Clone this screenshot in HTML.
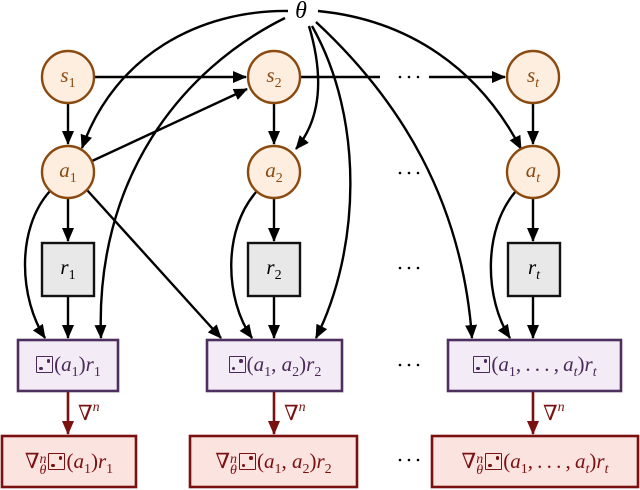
<!DOCTYPE html>
<html><head><meta charset="utf-8"><style>
body{margin:0;background:#fff;width:640px;height:490px;position:relative;overflow:hidden;font-family:"Liberation Serif","DejaVu Serif",serif;}
.lbl{position:absolute;display:block;text-align:center;font-family:"Liberation Serif","DejaVu Serif",serif;font-size:21px;white-space:nowrap;height:28px;line-height:28px}
.p{color:#4a2a5a}.r{color:#7a1010}
i{font-style:italic;font-family:"Liberation Serif","DejaVu Serif",serif}
sub{font-size:14px;vertical-align:-5px;line-height:0}
sup{font-size:14px;vertical-align:9px;line-height:0}
.d{display:inline-block;width:15px;height:15px;border:1.7px solid currentColor;border-radius:1px;position:relative;margin:0 1px 0 1px;vertical-align:-2px;line-height:0}
.d:before,.d:after{content:"";position:absolute;width:3.5px;height:3.5px;background:currentColor;border-radius:50%}
.d:before{left:2px;bottom:2px}.d:after{right:2px;top:2px}
.sb{display:inline-block;line-height:11px;font-size:14px;font-style:italic;margin-right:1px;vertical-align:-6px;text-align:left}
</style></head><body>
<svg width="640" height="490" style="position:absolute;left:0;top:0">
<defs>
<marker id="a" viewBox="0 0 14 12" refX="13" refY="6" markerWidth="14" markerHeight="12" orient="auto" markerUnits="userSpaceOnUse"><path d="M0,0 L14,6 L0,12 z" fill="#000"/></marker>
<marker id="rm" viewBox="0 0 14 12" refX="13" refY="6" markerWidth="14" markerHeight="12" orient="auto" markerUnits="userSpaceOnUse"><path d="M0,0 L14,6 L0,12 z" fill="#7a1010"/></marker>
</defs>
<g fill="none" stroke="#000" stroke-width="2.4" marker-end="url(#a)">
<path d="M288,11 C200,10 115,55 82,148"/>
<path d="M285,18 C180,70 95,180 101,338"/>
<path d="M309,26 C325,80 320,120 296,149"/>
<path d="M312,26 C365,120 360,250 316,338"/>
<path d="M316,22 C400,100 462,200 472,338"/>
<path d="M318,11 C410,20 480,70 521,149"/>
<path d="M94,77 L246,77"/>
<path d="M429,77 L505,77"/>
<path d="M92,161 L247,89"/>
<path d="M87,190 L221,338"/>
<path d="M50,191 C15,230 20,300 45,338"/>
<path d="M257,191 C222,230 225,300 252,338"/>
<path d="M516,191 C482,230 485,300 510,338"/>
<path d="M68,103 L68,144"/><path d="M274,103 L274,144"/><path d="M533,103 L533,144"/>
<path d="M68,198 L68,241"/><path d="M274,198 L274,241"/><path d="M533,198 L533,241"/>
<path d="M68,296 L68,338"/><path d="M274,296 L274,338"/><path d="M533,296 L533,338"/>
</g>
<path d="M300,77 L380,77" stroke="#000" stroke-width="2.4"/>
<g fill="#fdeee0" stroke="#8b4a0f" stroke-width="2.4">
<circle cx="68" cy="77" r="26"/><circle cx="274" cy="77" r="26"/><circle cx="533" cy="77" r="26"/>
<circle cx="68" cy="172" r="26"/><circle cx="274" cy="172" r="26"/><circle cx="533" cy="172" r="26"/>
</g>
<g fill="#e8e8e8" stroke="#111" stroke-width="2.4">
<rect x="42" y="243" width="52" height="53"/><rect x="248" y="243" width="52" height="53"/><rect x="508" y="243" width="52" height="53"/>
</g>
<g fill="#f3ebf5" stroke="#4e3060" stroke-width="2.6">
<rect x="18" y="340" width="100" height="51"/><rect x="207" y="340" width="135" height="51"/><rect x="448" y="340" width="173" height="51"/>
</g>
<g stroke="#7a1010" stroke-width="2.6" marker-end="url(#rm)">
<path d="M68,392 L68,434"/><path d="M274,392 L274,434"/><path d="M533,392 L533,434"/>
</g>
<g fill="#fbe3e0" stroke="#7a1010" stroke-width="2.6">
<rect x="2" y="436" width="134" height="51"/><rect x="190" y="436" width="167" height="51"/><rect x="432" y="436" width="206" height="51"/>
</g>
<g fill="#000">
<circle cx="400" cy="77" r="1.3"/><circle cx="409" cy="77" r="1.3"/><circle cx="418" cy="77" r="1.3"/>
<circle cx="400" cy="173" r="1.3"/><circle cx="409" cy="173" r="1.3"/><circle cx="418" cy="173" r="1.3"/>
<circle cx="400" cy="268" r="1.3"/><circle cx="409" cy="268" r="1.3"/><circle cx="418" cy="268" r="1.3"/>
<circle cx="400" cy="365" r="1.3"/><circle cx="409" cy="365" r="1.3"/><circle cx="418" cy="365" r="1.3"/>
<circle cx="400" cy="460" r="1.3"/><circle cx="409" cy="460" r="1.3"/><circle cx="418" cy="460" r="1.3"/>
</g>
</svg>
<div class="lbl" style="left:286px;top:-3px;width:30px;font-size:24px"><i>θ</i></div>
<div class="lbl" style="left:42px;top:61px;width:52px;color:#8b4a0f"><i>s</i><sub>1</sub></div>
<div class="lbl" style="left:248px;top:61px;width:52px;color:#8b4a0f"><i>s</i><sub>2</sub></div>
<div class="lbl" style="left:507px;top:61px;width:52px;color:#8b4a0f"><i>s</i><sub><i>t</i></sub></div>
<div class="lbl" style="left:42px;top:156px;width:52px;color:#8b4a0f"><i>a</i><sub>1</sub></div>
<div class="lbl" style="left:248px;top:156px;width:52px;color:#8b4a0f"><i>a</i><sub>2</sub></div>
<div class="lbl" style="left:507px;top:156px;width:52px;color:#8b4a0f"><i>a</i><sub><i>t</i></sub></div>
<div class="lbl" style="left:42px;top:253px;width:52px"><i>r</i><sub>1</sub></div>
<div class="lbl" style="left:248px;top:253px;width:52px"><i>r</i><sub>2</sub></div>
<div class="lbl" style="left:508px;top:253px;width:52px"><i>r</i><sub><i>t</i></sub></div>
<div class="lbl p" style="left:18px;top:350px;width:100px"><span class="d"></span>(<i>a</i><sub>1</sub>)<i>r</i><sub>1</sub></div>
<div class="lbl p" style="left:207px;top:350px;width:135px"><span class="d"></span>(<i>a</i><sub>1</sub>,&nbsp;<i>a</i><sub>2</sub>)<i>r</i><sub>2</sub></div>
<div class="lbl p" style="left:448px;top:350px;width:173px"><span class="d"></span>(<i>a</i><sub>1</sub>,&thinsp;.&thinsp;.&thinsp;.&thinsp;,&thinsp;<i>a</i><sub><i>t</i></sub>)<i>r</i><sub><i>t</i></sub></div>
<div class="lbl r" style="left:78px;top:399px">∇<sup><i>n</i></sup></div>
<div class="lbl r" style="left:284px;top:399px">∇<sup><i>n</i></sup></div>
<div class="lbl r" style="left:543px;top:399px">∇<sup><i>n</i></sup></div>
<div class="lbl r" style="left:2px;top:447px;width:134px">∇<span class="sb">n<br>θ</span><span class="d"></span>(<i>a</i><sub>1</sub>)<i>r</i><sub>1</sub></div>
<div class="lbl r" style="left:190px;top:447px;width:167px">∇<span class="sb">n<br>θ</span><span class="d"></span>(<i>a</i><sub>1</sub>,&nbsp;<i>a</i><sub>2</sub>)<i>r</i><sub>2</sub></div>
<div class="lbl r" style="left:432px;top:447px;width:206px">∇<span class="sb">n<br>θ</span><span class="d"></span>(<i>a</i><sub>1</sub>,&thinsp;.&thinsp;.&thinsp;.&thinsp;,&thinsp;<i>a</i><sub><i>t</i></sub>)<i>r</i><sub><i>t</i></sub></div>
</body></html>
